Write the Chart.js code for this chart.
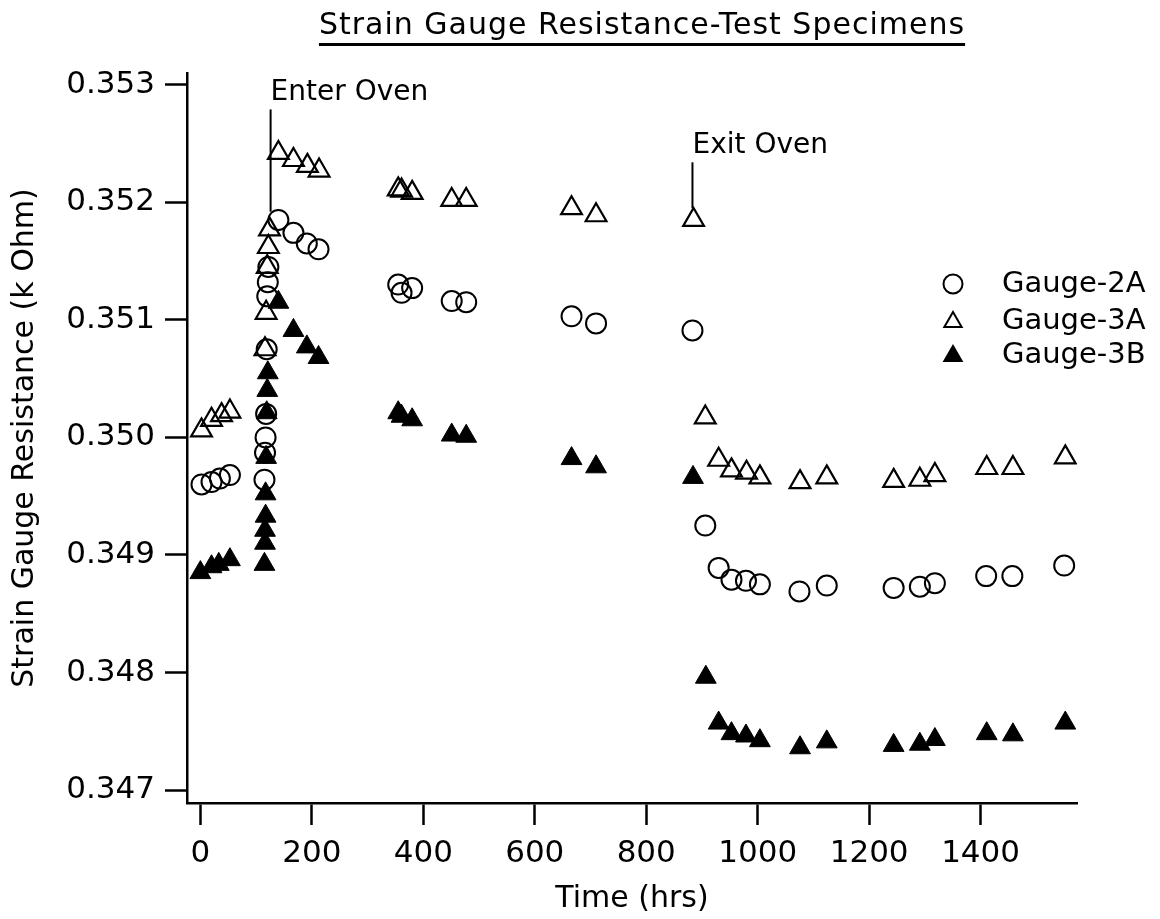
<!DOCTYPE html>
<html lang="en">
<head>
<meta charset="UTF-8">
<title>Strain Gauge Resistance-Test Specimens</title>
<script src="https://cdn.jsdelivr.net/npm/chart.js"></script>
<style>
    body { margin: 0; background: #ffffff; }
    canvas { display: block; }
</style>
</head>
<body>
<canvas id="gaugeChart" width="1160" height="919"></canvas>
<script>
// values: time in hrs, resistance in k Ohm
const gauge2aTime = [2, 20, 35, 53, 115, 116, 117, 118, 119, 120, 121, 122, 140, 167, 191, 212,
    355, 361, 380, 451, 477, 666, 710, 883, 906, 930, 953, 979, 1004, 1075, 1124, 1244, 1291, 1318, 1410, 1457, 1550];
const gauge2aRes = [0.34960, 0.34962, 0.34965, 0.34968, 0.34964, 0.34987, 0.35000, 0.35020, 0.35075, 0.35120, 0.35132, 0.35145,
    0.35185, 0.35174, 0.35165, 0.35160, 0.35130, 0.35123, 0.35127, 0.35116, 0.35115, 0.35103, 0.35097, 0.35091,
    0.34925, 0.34889, 0.34879, 0.34878, 0.34875, 0.34869, 0.34874, 0.34872, 0.34873, 0.34876, 0.34882, 0.34882, 0.34891];

const gauge3aTime = [2, 20, 38, 53, 116, 118, 120, 122, 124, 140, 167, 192, 213,
    355, 361, 380, 451, 477, 666, 710, 885, 906, 930, 953, 980, 1004, 1076, 1124, 1244, 1291, 1318, 1411, 1458, 1552];
const gauge3aRes = [0.35006, 0.35015, 0.35019, 0.35022, 0.35075, 0.35106, 0.35145, 0.35162, 0.35177,
    0.35242, 0.35236, 0.35231, 0.35227, 0.35211, 0.35210, 0.35208, 0.35202, 0.35202, 0.35195, 0.35189, 0.35185,
    0.35017, 0.34981, 0.34972, 0.34970, 0.34966, 0.34962, 0.34966, 0.34963, 0.34964, 0.34968, 0.34974, 0.34974, 0.34983];

const gauge3bTime = [0, 20, 33, 53, 115, 116, 116, 117, 117, 118, 119, 120, 121, 140, 167, 191, 212,
    355, 361, 380, 451, 477, 666, 710, 884, 907, 930, 953, 979, 1004, 1076, 1124, 1244, 1291, 1318, 1411, 1458, 1552];
const gauge3bRes = [0.34885, 0.34890, 0.34892, 0.34896, 0.34892, 0.34910, 0.34921, 0.34933, 0.34952, 0.34983, 0.35021, 0.35040, 0.35055,
    0.35115, 0.35091, 0.35077, 0.35068, 0.35021, 0.35018, 0.35015, 0.35002, 0.35001, 0.34982, 0.34975, 0.34966,
    0.34796, 0.34757, 0.34748, 0.34746, 0.34742, 0.34736, 0.34741, 0.34738, 0.34739, 0.34743, 0.34748, 0.34747, 0.34757];

const xTicks = [0, 200, 400, 600, 800, 1000, 1200, 1400];
const yTicks = [0.347, 0.348, 0.349, 0.350, 0.351, 0.352, 0.353];

// oven markers: time and resistance span of the pointer line
const ovenTimes = [126, 883];
const ovenTop = [0.35279, 0.35234];
const ovenBottom = [0.35192, 0.35195];
const ovenLabels = ['Enter Oven', 'Exit Oven'];

const titleText = 'Strain Gauge Resistance-Test Specimens';
const font = '"DejaVu Sans", sans-serif';

function toPoints(xs, ys) {
    return xs.map((x, i) => ({ x: x, y: ys[i] }));
}

// title, oven pointers and legend drawn on top of the chart
const extras = {
    id: 'extras',
    afterDraw(chart) {
        const ctx = chart.ctx;
        const xs = chart.scales.x;
        const ys = chart.scales.y;
        ctx.save();
        ctx.fillStyle = '#000';
        ctx.strokeStyle = '#000';

        // title with underline
        ctx.font = '30px ' + font;
        ctx.letterSpacing = '1px';
        ctx.textAlign = 'center';
        ctx.textBaseline = 'alphabetic';
        ctx.fillText(titleText, 642, 34);
        const w = ctx.measureText(titleText).width;
        ctx.lineWidth = 3;
        ctx.beginPath();
        ctx.moveTo(642 - w / 2, 44.5);
        ctx.lineTo(642 + w / 2, 44.5);
        ctx.stroke();

        // Enter / Exit oven pointers
        ctx.font = '28px ' + font;
        ctx.letterSpacing = '0px';
        ctx.textAlign = 'left';
        ctx.lineWidth = 2;
        ovenTimes.forEach((t, i) => {
            const px = xs.getPixelForValue(t);
            const top = ys.getPixelForValue(ovenTop[i]);
            ctx.beginPath();
            ctx.moveTo(px, top);
            ctx.lineTo(px, ys.getPixelForValue(ovenBottom[i]));
            ctx.stroke();
            ctx.fillText(ovenLabels[i], px, top - 9);
        });

        // legend
        ctx.font = '29px ' + font;
        ctx.textBaseline = 'middle';
        const rows = [284, 321, 355];
        chart.data.datasets.forEach((ds, i) => {
            ctx.fillStyle = ds.backgroundColor;
            ctx.strokeStyle = '#000';
            ctx.lineWidth = 2;
            Chart.helpers.drawPoint(ctx, {
                pointStyle: ds.pointStyle,
                radius: ds.pointStyle === 'circle' ? 9.5 : 10,
                borderWidth: 2,
                rotation: 0
            }, 953, rows[i] + (ds.pointStyle === 'circle' ? 0 : 1));
            ctx.fillStyle = '#000';
            ctx.fillText(ds.label, 1002, rows[i]);
        });
        ctx.restore();
    }
};

const ctx = document.getElementById('gaugeChart').getContext('2d');
new Chart(ctx, {
    type: 'scatter',
    data: {
        datasets: [
            {
                label: 'Gauge-2A',
                data: toPoints(gauge2aTime, gauge2aRes),
                pointStyle: 'circle',
                pointRadius: 10,
                borderWidth: 2,
                borderColor: '#000',
                backgroundColor: 'rgba(0,0,0,0)'
            },
            {
                label: 'Gauge-3A',
                data: toPoints(gauge3aTime, gauge3aRes),
                pointStyle: 'triangle',
                pointRadius: 12,
                borderWidth: 2.2,
                borderColor: '#000',
                backgroundColor: 'rgba(0,0,0,0)'
            },
            {
                label: 'Gauge-3B',
                data: toPoints(gauge3bTime, gauge3bRes),
                pointStyle: 'triangle',
                pointRadius: 12,
                borderWidth: 1,
                borderColor: '#000',
                backgroundColor: '#000'
            }
        ]
    },
    options: {
        responsive: false,
        animation: false,
        devicePixelRatio: 1,
        layout: { padding: { top: 73, right: 83, bottom: 0, left: 0 } },
        plugins: {
            legend: { display: false },
            title: { display: false },
            tooltip: { enabled: false }
        },
        scales: {
            x: {
                type: 'linear',
                min: -24,
                max: 1573,
                afterFit: scale => { scale.height = 116; },
                afterBuildTicks: scale => { scale.ticks = xTicks.map(v => ({ value: v })); },
                border: { display: true, color: '#000', width: 2.5 },
                grid: { drawOnChartArea: false, drawTicks: true, tickLength: 22, tickWidth: 2.5, tickColor: '#000' },
                ticks: { color: '#000', font: { family: font, size: 31 }, padding: 10, maxRotation: 0, callback: v => String(v) },
                title: { display: true, text: 'Time (hrs)', color: '#000', font: { family: font, size: 30 }, padding: { top: 2, bottom: 2 } }
            },
            y: {
                type: 'linear',
                min: 0.34689,
                max: 0.35310,
                afterFit: scale => { scale.width = 187; },
                afterBuildTicks: scale => { scale.ticks = yTicks.map(v => ({ value: v })); },
                border: { display: true, color: '#000', width: 2.5 },
                grid: { drawOnChartArea: false, drawTicks: true, tickLength: 22, tickWidth: 2.5, tickColor: '#000' },
                ticks: { color: '#000', font: { family: font, size: 31 }, padding: 10, callback: v => v.toFixed(3) },
                title: { display: true, text: 'Strain Gauge Resistance (k Ohm)', color: '#000', font: { family: font, size: 30 }, padding: { top: 7, bottom: 0 } }
            }
        }
    },
    plugins: [extras]
});
</script>
</body>
</html>
